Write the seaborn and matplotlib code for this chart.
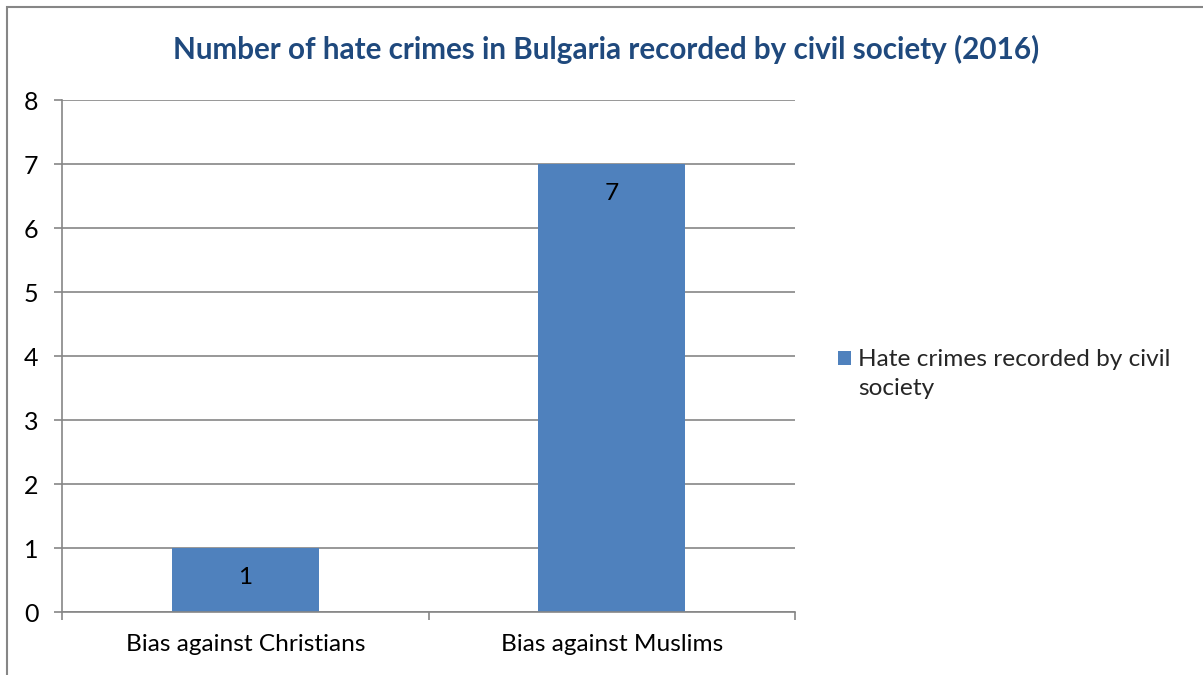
import matplotlib
matplotlib.use("Agg")
import matplotlib.pyplot as plt
import seaborn as sns
import pandas as pd
from matplotlib.patches import Rectangle

categories = ["Bias against Christians", "Bias against Muslims"]
values = [1, 7]
series_name = "Hate crimes recorded by civil\nsociety"
title = "Number of hate crimes in Bulgaria recorded by civil society (2016)"
yticks = [0, 1, 2, 3, 4, 5, 6, 7, 8]

sns.set_style("white")
plt.rcParams['font.family'] = ['Lato', 'DejaVu Sans']

W, H = 1203, 675
fig = plt.figure(figsize=(W / 100, H / 100), dpi=100)
ax = fig.add_axes([62 / W, 1 - 612 / H, (795 - 62) / W, (612 - 100) / H])

df = pd.DataFrame({"category": categories, "value": values, "series": series_name})
sns.barplot(data=df, x="category", y="value", hue="series", palette=["#4F81BD"],
            width=0.4, ax=ax, saturation=1, dodge=False, linewidth=0)

ax.set_xlim(-0.5, 1.5)
ax.set_ylim(0, 8)
ax.set_yticks(yticks)
ax.yaxis.grid(True, color="#868686", linewidth=1.2)
ax.set_axisbelow(True)
ax.set_xlabel("")
ax.set_ylabel("")
for s in ["top", "right"]:
    ax.spines[s].set_visible(False)
for s in ["left", "bottom"]:
    ax.spines[s].set_color("#868686")
    ax.spines[s].set_linewidth(1.2)

ax.tick_params(axis="y", which="major", direction="out", length=6, width=1.2,
               color="#868686", left=True, labelsize=18, pad=11)
ax.tick_params(axis="x", which="major", length=0, labelsize=17.6, pad=16)
ax.set_xticks([-0.5, 0.5, 1.5], minor=True)
ax.tick_params(axis="x", which="minor", direction="out", length=6, width=1.2,
               color="#868686", bottom=True)
for lab in ax.get_yticklabels() + ax.get_xticklabels():
    lab.set_color("black")

for p in ax.patches:
    h = p.get_height()
    if h > 0:
        ax.annotate(f"{h:g}", (p.get_x() + p.get_width() / 2, h),
                    xytext=(0, -21), textcoords="offset points",
                    ha="center", va="center", fontsize=17.6, color="black")

leg = ax.legend(loc="center left", bbox_to_anchor=(816 / W, 1 - 374 / H),
                bbox_transform=fig.transFigure, frameon=False, fontsize=17.6,
                handlelength=0.53, handleheight=0.53, handletextpad=0.29,
                title=None, labelspacing=0.3)
leg.texts[0].set_linespacing(1.42)
hnd = leg.legend_handles[0]
hnd.set_y(hnd.get_y() + 11.5)

fig.text(606 / W, 1 - 49 / H, title, ha="center", va="center",
         fontsize=21.3, fontweight="bold", color="#1F497D")

fig.patches.append(Rectangle((7 / W, -0.05), 1.1, 1 - 7 / H + 0.05,
                             transform=fig.transFigure, fill=False,
                             edgecolor="#868686", linewidth=1.5))

fig.savefig("out.png", dpi=100)
